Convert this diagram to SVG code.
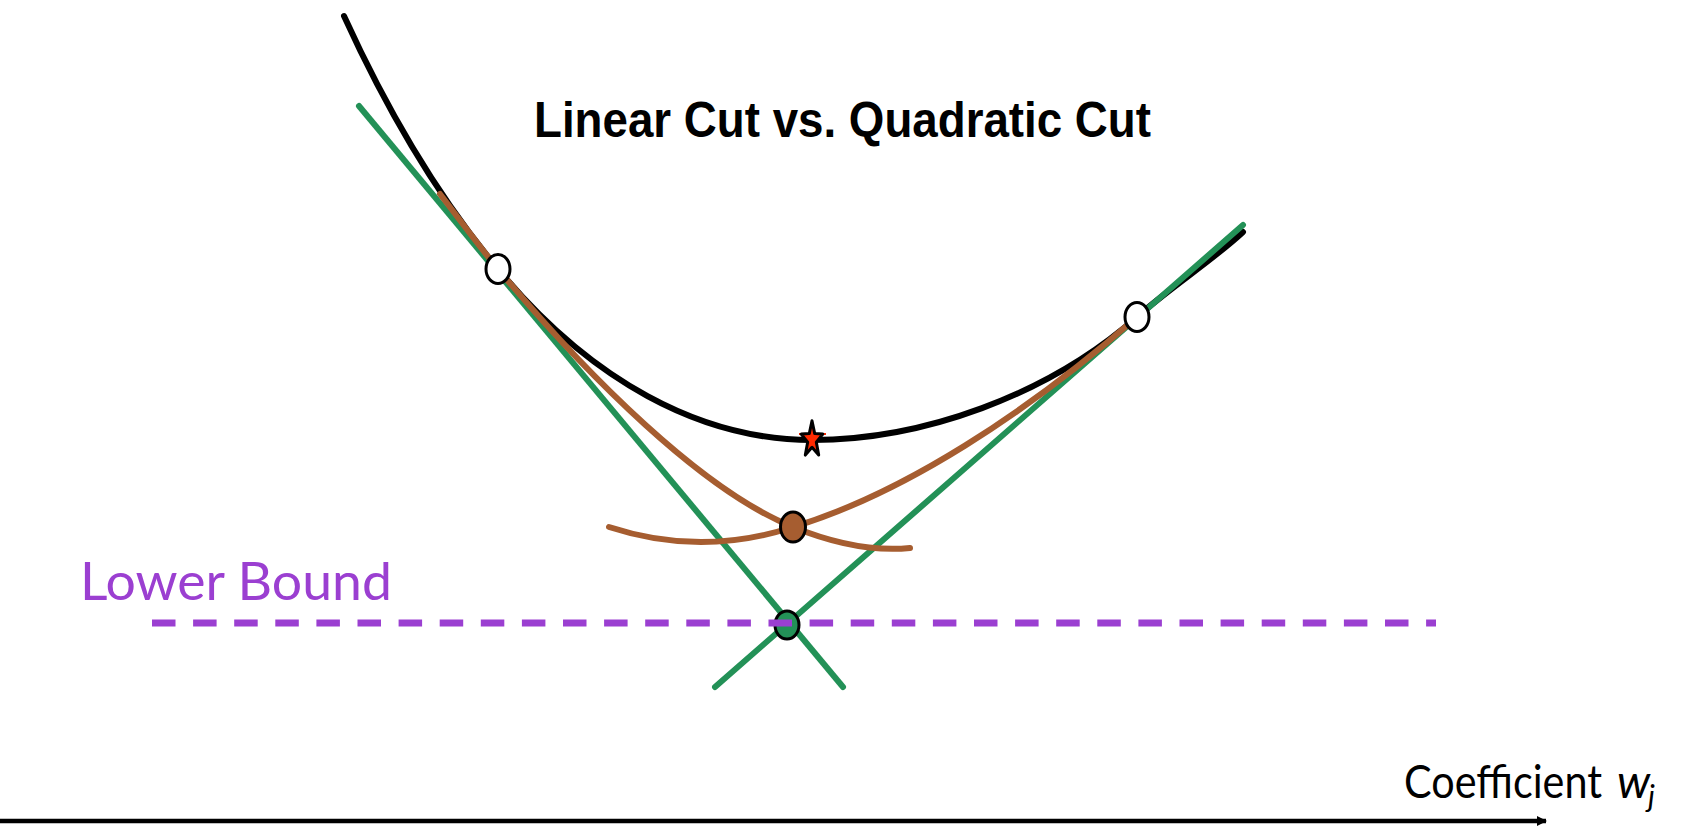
<svg xmlns="http://www.w3.org/2000/svg" width="1691" height="830" viewBox="0 0 1691 830">
<style>
.blk{fill:none;stroke:#000;stroke-width:6;stroke-linecap:round}
.grn{fill:none;stroke:#239157;stroke-width:6;stroke-linecap:round}
.brn{fill:none;stroke:#A65D30;stroke-width:6;stroke-linecap:round}
.pt{stroke:#000;stroke-width:3}
.lb{stroke:#9B3FD1;stroke-width:7;stroke-dasharray:23.5 17.6}
.cal{font-family:Lato,'Open Sans','Noto Sans',sans-serif}
</style>
<defs>
<marker id="ah" markerWidth="10" markerHeight="10" refX="9" refY="5" orient="auto" markerUnits="userSpaceOnUse" viewBox="0 0 10 10">
<path d="M0,0 L10,5 L0,10 z" fill="#000"/>
</marker>
</defs>
<rect width="1691" height="830" fill="#fff"/>
<g id="connectors">
<path id="loss-curve" class="blk" d="M344,16 C385,106 434.6,193 498,269 C590,380 700,440 812,440 C922,440 1047,396 1137,317 C1172,286 1213,260 1243,232"/>
<line id="linear-cut-left" class="grn" x1="359" y1="106" x2="843" y2="687"/>
<line id="linear-cut-right" class="grn" x1="715" y1="687" x2="1243" y2="225"/>
<path id="quad-cut-left" class="brn" d="M440,194 C460,220 479,246 498,269 C588,377 703,491 793,527 C830,542 870,552 910,548"/>
<path id="quad-cut-right" class="brn" d="M609,527 C670,547 732,547 793,527 C903,494 1027,413 1137,317"/>
<line id="axis" x1="0" y1="821" x2="1546" y2="821" stroke="#000" stroke-width="4.5" marker-end="url(#ah)"/>
</g>
<g id="point-left"><ellipse class="pt" cx="498" cy="269" rx="12" ry="14.5" fill="#fff"/></g>
<g id="point-right"><ellipse class="pt" cx="1137" cy="317" rx="12" ry="14.5" fill="#fff"/></g>
<g id="point-quad"><ellipse class="pt" cx="793" cy="527" rx="12.5" ry="15" fill="#A65D30"/></g>
<g id="point-linear"><ellipse class="pt" cx="787" cy="625" rx="12" ry="14" fill="#239157"/></g>
<g id="lower-bound">
<line class="lb" x1="152" y1="623" x2="1436" y2="623"/>
<text class="cal" x="80" y="600" font-size="52" fill="#9B3FD1" textLength="312" lengthAdjust="spacingAndGlyphs">Lower Bound</text>
</g>
<g id="optimum">
<line x1="799" y1="434" x2="826" y2="434" stroke="#FF2A00" stroke-width="2"/>
<polygon points="812,420.7 814.7,433.6 822.8,434.1 816.3,442.1 818.7,455.1 812,447.3 805.3,455.1 807.7,442.1 801.2,434.1 809.3,433.6" fill="#FF2A00" stroke="#000" stroke-width="3" stroke-linejoin="round"/>
</g>
<g id="title">
<text x="534" y="137" font-family="'Liberation Sans',Arial,sans-serif" font-weight="bold" font-size="50" fill="#000" textLength="617" lengthAdjust="spacingAndGlyphs">Linear Cut vs. Quadratic Cut</text>
</g>
<g id="axis-label">
<text class="cal" x="1404" y="798" font-size="46" fill="#000"><tspan textLength="198" lengthAdjust="spacingAndGlyphs">Coefficient</tspan><tspan x="1617" font-style="italic">w</tspan><tspan x="1648" y="807" font-style="italic" font-size="30">j</tspan></text>
</g>
</svg>
